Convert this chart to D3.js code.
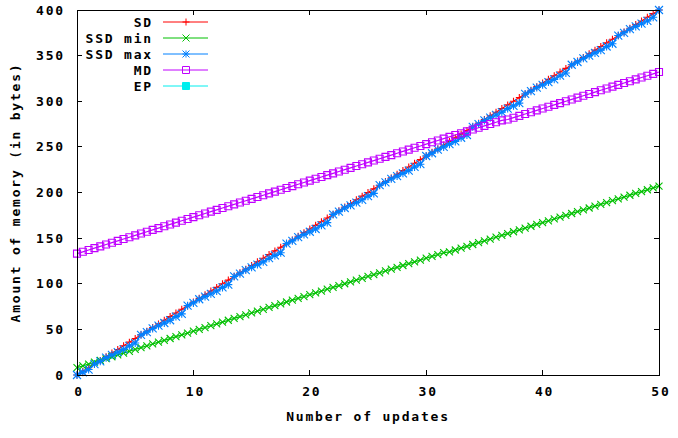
<!DOCTYPE html>
<html>
<head>
<meta charset="utf-8">
<script src="https://cdn.jsdelivr.net/npm/d3@7"></script>
<style>
  body { margin: 0; background: #fff; }
  text { font-family: "DejaVu Sans Mono", monospace; font-size: 13px; font-weight: bold; fill: #000; letter-spacing: 1.8px; }
</style>
</head>
<body>
<div id="chart"></div>
<script>
// number of updates (x), two samples per update
var updates = [0,0.5,1,1.5,2,2.5,3,3.5,4,4.5,5,5.5,6,6.5,7,7.5,8,8.5,9,9.5,
  10,10.5,11,11.5,12,12.5,13,13.5,14,14.5,15,15.5,16,16.5,17,17.5,18,18.5,19,19.5,
  20,20.5,21,21.5,22,22.5,23,23.5,24,24.5,25,25.5,26,26.5,27,27.5,28,28.5,29,29.5,
  30,30.5,31,31.5,32,32.5,33,33.5,34,34.5,35,35.5,36,36.5,37,37.5,38,38.5,39,39.5,
  40,40.5,41,41.5,42,42.5,43,43.5,44,44.5,45,45.5,46,46.5,47,47.5,48,48.5,49,49.5,50];

// memory in bytes
var sd = [0,4,8,12,16,20,24,28,32,36,40,44,48,52,56,60,64,68,72,76,
  80,84,88,92,96,100,104,108,112,116,120,124,128,132,136,140,144,148,152,156,
  160,164,168,172,176,180,184,188,192,196,200,204,208,212,216,220,224,228,232,236,
  240,244,248,252,256,260,264,268,272,276,280,284,288,292,296,300,304,308,312,316,
  320,324,328,332,336,340,344,348,352,356,360,364,368,372,376,380,384,388,392,396,400];

var ssdMin = [8,10,12,14,16,18,20,22,24,26,28,30,32,34,36,38,40,42,44,46,
  48,50,52,54,56,58,60,62,64,66,68,70,72,74,76,78,80,82,84,86,
  88,90,92,94,96,98,100,102,104,106,108,110,112,114,116,118,120,122,124,126,
  128,130,132,134,135,137,139,141,143,145,147,149,151,153,155,157,159,161,163,165,
  167,169,171,173,175,177,179,181,183,185,187,189,191,193,195,197,199,201,203,205,207];

var ssdMax = [0,3,6,12,15,19,22,25,28,32,35,44,47,51,54,57,60,64,67,76,
  79,83,86,89,92,96,99,108,111,115,118,121,124,128,131,134,144,147,151,154,
  157,160,164,167,176,179,183,186,189,192,196,199,208,211,215,218,221,224,228,231,
  240,243,247,250,253,256,260,263,272,275,279,282,285,288,292,295,298,308,311,315,
  318,321,324,328,331,340,343,347,350,353,356,360,363,372,375,379,382,385,388,392,400];

var md = [133,135,137,139,141,143,145,147,149,151,153,155,157,159,161,163,165,167,169,171,
  173,175,177,179,181,183,185,187,189,191,193,195,197,199,201,203,205,207,209,211,
  213,215,217,219,221,223,225,227,229,231,233,235,237,239,241,243,245,247,249,251,
  253,255,257,259,261,263,265,267,269,271,273,275,277,279,280,282,284,286,288,290,
  292,294,296,298,300,302,304,306,308,310,312,314,316,318,320,322,324,326,328,330,332];

var ep = [];

var seriesNames = ["SD", "SSD min", "SSD max", "MD", "EP"];
var seriesColors = ["#ff0000", "#00c000", "#0080ff", "#c000ff", "#00eeee"];
var seriesMarks = ["plus", "cross", "star", "box", "fbox"];
var xTicks = [0, 10, 20, 30, 40, 50];
var yTicks = [0, 50, 100, 150, 200, 250, 300, 350, 400];

var W = 678, H = 438;
var plotL = 77, plotR = 659, plotT = 10, plotB = 375;

var svg = d3.select("#chart").append("svg")
  .attr("width", W).attr("height", H);

var x = d3.scaleLinear().domain([0, 50]).range([plotL, plotR]);
var y = d3.scaleLinear().domain([0, 400]).range([plotB, plotT]);

// marker shapes, r = half size
function markPath(type, r) {
  var p = d3.path();
  if (type == "plus" || type == "star") {
    p.moveTo(-r, 0); p.lineTo(r, 0);
    p.moveTo(0, -r); p.lineTo(0, r);
  }
  if (type == "cross" || type == "star") {
    p.moveTo(-r, -r); p.lineTo(r, r);
    p.moveTo(-r, r); p.lineTo(r, -r);
  }
  if (type == "box" || type == "fbox") {
    p.rect(-r, -r, 2 * r, 2 * r);
  }
  return p.toString();
}

// ticks (inside, mirrored)
var tl = 5;
var g = svg.append("g").attr("stroke", "#000").attr("stroke-width", 1).attr("shape-rendering", "crispEdges");
yTicks.forEach(function(t) {
  g.append("line").attr("x1", plotL).attr("x2", plotL + tl).attr("y1", y(t)).attr("y2", y(t));
  g.append("line").attr("x1", plotR).attr("x2", plotR - tl).attr("y1", y(t)).attr("y2", y(t));
});
xTicks.forEach(function(t) {
  g.append("line").attr("x1", x(t)).attr("x2", x(t)).attr("y1", plotB).attr("y2", plotB - tl);
  g.append("line").attr("x1", x(t)).attr("x2", x(t)).attr("y1", plotT).attr("y2", plotT + tl);
});

// tick labels
svg.selectAll("text.ylab").data(yTicks).enter().append("text")
  .attr("class", "ylab")
  .attr("x", plotL - 12).attr("y", function(d) { return y(d); })
  .attr("dy", "0.35em").attr("text-anchor", "end")
  .text(function(d) { return d; });

svg.selectAll("text.xlab").data(xTicks).enter().append("text")
  .attr("class", "xlab")
  .attr("x", function(d) { return x(d) + 2; }).attr("y", 391)
  .attr("dy", "0.35em").attr("text-anchor", "middle")
  .text(function(d) { return d; });

// axis titles
svg.append("text")
  .attr("x", (plotL + plotR) / 2).attr("y", 416).attr("dy", "0.35em")
  .attr("text-anchor", "middle")
  .text("Number of updates");

svg.append("text")
  .attr("transform", "translate(15," + ((plotT + plotB) / 2) + ") rotate(-90)")
  .attr("dy", "0.35em").attr("text-anchor", "middle")
  .text("Amount of memory (in bytes)");

// series
var allSeries = [sd, ssdMin, ssdMax, md, ep];
var line = d3.line()
  .x(function(d) { return x(d[0]); })
  .y(function(d) { return y(d[1]); });

allSeries.forEach(function(vals, k) {
  var pts = vals.map(function(v, i) { return [updates[i], v]; });
  var sg = svg.append("g").attr("class", "series");
  sg.append("path")
    .attr("d", line(pts))
    .attr("fill", "none")
    .attr("stroke", seriesColors[k])
    .attr("stroke-width", 1.2);
  sg.selectAll("path.mark").data(pts).enter().append("path")
    .attr("class", "mark")
    .attr("transform", function(d) { return "translate(" + x(d[0]) + "," + y(d[1]) + ")"; })
    .attr("d", markPath(seriesMarks[k], seriesMarks[k] == "star" ? 4 : 3.5))
    .attr("fill", seriesMarks[k] == "fbox" ? seriesColors[k] : "none")
    .attr("stroke", seriesColors[k])
    .attr("stroke-width", 1.1);
});

// legend
var leg = svg.append("g");
seriesNames.forEach(function(name, k) {
  var ly = 22 + k * 16;
  leg.append("text")
    .attr("x", 153).attr("y", ly).attr("dy", "0.35em")
    .attr("text-anchor", "end")
    .text(name);
  leg.append("line")
    .attr("x1", 163).attr("x2", 208).attr("y1", ly).attr("y2", ly)
    .attr("stroke", seriesColors[k]).attr("stroke-width", 1);
  leg.append("path")
    .attr("transform", "translate(186," + ly + ")")
    .attr("d", markPath(seriesMarks[k], 3.5))
    .attr("fill", seriesMarks[k] == "fbox" ? seriesColors[k] : "none")
    .attr("stroke", seriesColors[k]).attr("stroke-width", 1);
});

// border
svg.append("rect")
  .attr("x", plotL).attr("y", plotT)
  .attr("width", plotR - plotL).attr("height", plotB - plotT)
  .attr("fill", "none").attr("stroke", "#000").attr("stroke-width", 1)
  .attr("shape-rendering", "crispEdges");
</script>
</body>
</html>
